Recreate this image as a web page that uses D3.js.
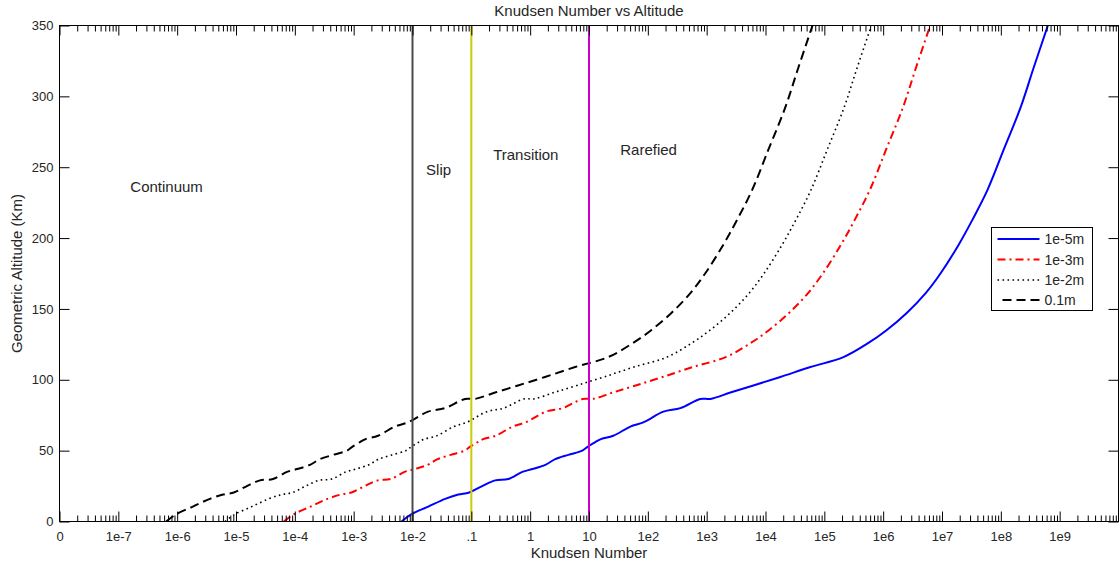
<!DOCTYPE html>
<html>
<head>
<meta charset="utf-8">
<script src="https://cdn.jsdelivr.net/npm/d3@7"></script>
<style>
  body { margin: 0; background: #ffffff; }
  svg text { font-family: "Liberation Sans", Arial, Helvetica, sans-serif; fill: #262626; }
</style>
</head>
<body>
<svg id="chart" width="1119" height="567"></svg>
<script>
// Geometric altitude (km) at which each Knudsen number is evaluated
const altitudeKm = [0, 5, 10.5, 16, 19, 20.5, 25, 29, 30, 35, 37, 40, 44, 47, 50, 53, 56, 58, 60.5, 67, 70,
  77.5, 80, 86.5, 86.5, 91, 96, 102, 109, 116, 126, 135, 147, 161, 175, 195, 213, 234, 262, 292, 320, 350];

// Knudsen number for each characteristic length
const knL1e5m = [6.5e-3, 9.5e-3, 1.85e-2, 3.6e-2, 6.0e-2, 9.2e-2, 0.153, 0.255, 0.425, 0.735, 1.09, 1.81, 2.67,
  4.45, 7.7, 9.7, 12.8, 15.6, 25.9, 50.4, 83.8, 184, 357, 782, 1156, 2530, 6220, 1.79e4, 5.81e4, 2.11e5,
  5.62e5, 1.14e6, 2.49e6, 5.24e6, 9.42e6, 1.9e7, 3.30e7, 5.94e7, 1.11e8, 2.16e8, 3.60e8, 6.3e8];
const knL1e3m = [6.5e-5, 9.5e-5, 1.85e-4, 3.6e-4, 6.0e-4, 9.2e-4, 1.53e-3, 2.55e-3, 4.25e-3, 7.35e-3, 1.09e-2,
  1.81e-2, 2.67e-2, 4.45e-2, 7.7e-2, 9.7e-2, 0.128, 0.156, 0.259, 0.504, 0.838, 1.84, 3.57, 7.82, 11.56, 25.3,
  62.2, 179, 581, 2110, 5620, 1.14e4, 2.49e4, 5.24e4, 9.42e4, 1.9e5, 3.30e5, 5.94e5, 1.11e6, 2.16e6, 3.60e6, 6.3e6];
const knL1e2m = [6.5e-6, 9.5e-6, 1.85e-5, 3.6e-5, 6.0e-5, 9.2e-5, 1.53e-4, 2.55e-4, 4.25e-4, 7.35e-4, 1.09e-3,
  1.81e-3, 2.67e-3, 4.45e-3, 7.7e-3, 9.7e-3, 1.28e-2, 1.56e-2, 2.59e-2, 5.04e-2, 8.38e-2, 0.184, 0.357, 0.782,
  1.156, 2.53, 6.22, 17.9, 58.1, 211, 562, 1140, 2490, 5240, 9420, 1.9e4, 3.30e4, 5.94e4, 1.11e5, 2.16e5, 3.60e5, 6.3e5];
const knL0p1m = [6.5e-7, 9.5e-7, 1.85e-6, 3.6e-6, 6.0e-6, 9.2e-6, 1.53e-5, 2.55e-5, 4.25e-5, 7.35e-5, 1.09e-4,
  1.81e-4, 2.67e-4, 4.45e-4, 7.7e-4, 9.7e-4, 1.28e-3, 1.56e-3, 2.59e-3, 5.04e-3, 8.38e-3, 1.84e-2, 3.57e-2,
  7.82e-2, 0.1156, 0.253, 0.622, 1.79, 5.81, 21.1, 56.2, 114, 249, 524, 942, 1900, 3300, 5940, 1.11e4, 2.16e4, 3.60e4, 6.3e4];

const seriesNames = ["1e-5m", "1e-3m", "1e-2m", "0.1m"];

// Axis ticks
const xTickValues = [1e-8, 1e-7, 1e-6, 1e-5, 1e-4, 1e-3, 1e-2, 1e-1, 1, 10, 1e2, 1e3, 1e4, 1e5, 1e6, 1e7, 1e8, 1e9];
const xTickLabels = ["0", "1e-7", "1e-6", "1e-5", "1e-4", "1e-3", "1e-2", ".1", "1", "10", "1e2", "1e3", "1e4",
  "1e5", "1e6", "1e7", "1e8", "1e9"];
const yTickValues = [0, 50, 100, 150, 200, 250, 300, 350];

// Flow regime boundaries and their labels
const regimeBoundaries = [0.01, 0.1, 10];
const regimeNames = ["Continuum", "Slip", "Transition", "Rarefied"];
const regimeLabelKn = [1.6e-7, 0.017, 0.235, 34];
const regimeLabelAlt = [236.5, 248, 259, 262];

// ---- layout and styles ----
const W = 1119, H = 567;
const plot = { left: 59.5, right: 1118.5, top: 25.5, bottom: 521.5 };
const boundaryColors = ["#4a4a4a", "#cccc00", "#cc00cc"];
const seriesStyles = [
  { color: "#0000ff", width: 2, dash: null },
  { color: "#ff0000", width: 2, dash: "8,4,2,4" },
  { color: "#000000", width: 1.6, dash: "1.6,3.4" },
  { color: "#000000", width: 2, dash: "9,5" }
];

const svg = d3.select("#chart");
svg.append("rect").attr("width", W).attr("height", H).attr("fill", "#ffffff");

const x = d3.scaleLog().domain([1e-8, 1e10]).range([plot.left, plot.right]);
const y = d3.scaleLinear().domain([0, 350]).range([plot.bottom, plot.top]);

// minor log ticks: 2..9 in every decade
const minorTicks = [];
for (let e = -8; e < 10; e++) {
  for (let m = 2; m <= 9; m++) minorTicks.push(m * Math.pow(10, e));
}

svg.append("defs").append("clipPath").attr("id", "plotClip")
  .append("rect")
  .attr("x", plot.left).attr("y", plot.top)
  .attr("width", plot.right - plot.left).attr("height", plot.bottom - plot.top);

// ---- series ----
const seriesData = [knL1e5m, knL1e3m, knL1e2m, knL0p1m];
const line = d3.line()
  .x(d => x(d.kn))
  .y(d => y(d.alt))
  .curve(d3.curveCatmullRom.alpha(0.5));

const curves = svg.append("g").attr("clip-path", "url(#plotClip)");
seriesData.forEach((vals, i) => {
  const pts = vals.map((kn, j) => ({ kn: kn, alt: altitudeKm[j] }));
  const st = seriesStyles[i];
  curves.append("path")
    .datum(pts)
    .attr("d", line)
    .attr("fill", "none")
    .attr("stroke", st.color)
    .attr("stroke-width", st.width)
    .attr("stroke-dasharray", st.dash)
    .attr("stroke-linejoin", "round");
});

// ---- regime boundaries ----
regimeBoundaries.forEach((b, i) => {
  svg.append("line")
    .attr("x1", x(b)).attr("x2", x(b))
    .attr("y1", y(0)).attr("y2", y(350))
    .attr("stroke", boundaryColors[i])
    .attr("stroke-width", 2);
});

// ---- regime labels ----
regimeNames.forEach((name, i) => {
  svg.append("text")
    .attr("x", x(regimeLabelKn[i]))
    .attr("y", y(regimeLabelAlt[i]))
    .attr("dy", "0.35em")
    .attr("font-size", 15)
    .text(name);
});

// ---- axes ----
function styleAxis(g) {
  g.select(".domain").remove();
  g.selectAll(".tick line").attr("stroke", "#000000");
  g.selectAll(".tick text").attr("font-size", 13).attr("fill", "#262626");
}

// bottom: major with labels, minor without
svg.append("g")
  .attr("transform", `translate(0,${plot.bottom})`)
  .call(d3.axisBottom(x).tickValues(xTickValues)
    .tickFormat((d, i) => xTickLabels[i]).tickSize(-10).tickPadding(10))
  .call(styleAxis);
svg.append("g")
  .attr("transform", `translate(0,${plot.bottom})`)
  .call(d3.axisBottom(x).tickValues(minorTicks).tickFormat("").tickSize(-6))
  .call(styleAxis);

// top: ticks only
svg.append("g")
  .attr("transform", `translate(0,${plot.top})`)
  .call(d3.axisTop(x).tickValues(xTickValues).tickFormat("").tickSize(-10))
  .call(styleAxis);
svg.append("g")
  .attr("transform", `translate(0,${plot.top})`)
  .call(d3.axisTop(x).tickValues(minorTicks).tickFormat("").tickSize(-6))
  .call(styleAxis);

// left: labels; right: ticks only
svg.append("g")
  .attr("transform", `translate(${plot.left},0)`)
  .call(d3.axisLeft(y).tickValues(yTickValues).tickSize(-10).tickPadding(6))
  .call(styleAxis);
svg.append("g")
  .attr("transform", `translate(${plot.right},0)`)
  .call(d3.axisRight(y).tickValues(yTickValues).tickFormat("").tickSize(-10))
  .call(styleAxis);

// axes box
svg.append("rect")
  .attr("x", plot.left).attr("y", plot.top)
  .attr("width", plot.right - plot.left).attr("height", plot.bottom - plot.top)
  .attr("fill", "none").attr("stroke", "#000000").attr("stroke-width", 1);

// ---- titles ----
const midX = (plot.left + plot.right) / 2;
svg.append("text")
  .attr("x", midX).attr("y", 16)
  .attr("text-anchor", "middle").attr("font-size", 15)
  .text("Knudsen Number vs Altitude");
svg.append("text")
  .attr("x", midX).attr("y", 558)
  .attr("text-anchor", "middle").attr("font-size", 15)
  .text("Knudsen Number");
svg.append("text")
  .attr("transform", `translate(22,${(plot.top + plot.bottom) / 2}) rotate(-90)`)
  .attr("text-anchor", "middle").attr("font-size", 15)
  .text("Geometric Altitude (Km)");

// ---- legend ----
const legend = svg.append("g").attr("transform", "translate(991.5,227.5)");
legend.append("rect")
  .attr("width", 101).attr("height", 83)
  .attr("fill", "#ffffff").attr("stroke", "#000000").attr("stroke-width", 1);
const rowY = [11.5, 32, 52.5, 72.5];
seriesNames.forEach((name, i) => {
  const st = seriesStyles[i];
  legend.append("line")
    .attr("x1", i === 3 ? 11 : 6).attr("x2", 48)
    .attr("y1", rowY[i]).attr("y2", rowY[i])
    .attr("stroke", st.color)
    .attr("stroke-width", st.width)
    .attr("stroke-dasharray", st.dash);
  legend.append("text")
    .attr("x", 53).attr("y", rowY[i])
    .attr("dy", "0.36em")
    .attr("font-size", 14)
    .text(name);
});
</script>
</body>
</html>
